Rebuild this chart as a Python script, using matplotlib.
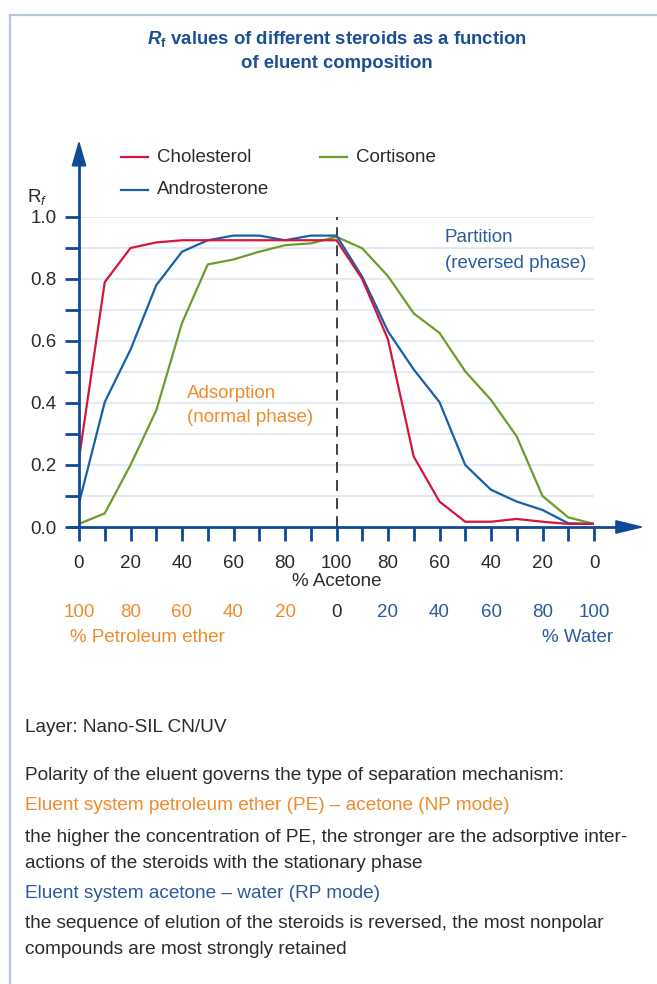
import matplotlib
matplotlib.use("Agg")
import matplotlib.pyplot as plt
from matplotlib.lines import Line2D
from matplotlib.patches import Polygon
import numpy as np

plt.rcParams['font.family'] = ['Liberation Sans', 'DejaVu Sans']
plt.rcParams['mathtext.fontset'] = 'custom'
plt.rcParams['mathtext.rm'] = 'Liberation Sans'
plt.rcParams['mathtext.it'] = 'Liberation Sans:italic'
plt.rcParams['mathtext.bf'] = 'Liberation Sans:bold'
plt.rcParams['mathtext.bfit'] = 'Liberation Sans:italic:bold'

# position along the run: 0..100 = PE/acetone (NP), 100..200 = acetone/water (RP)
pos = np.arange(0, 201, 10)

cholesterol = [0.22, 0.79, 0.90, 0.918, 0.925, 0.925, 0.925, 0.925, 0.925, 0.925, 0.925,
               0.80, 0.605, 0.227, 0.082, 0.017, 0.017, 0.026, 0.017, 0.01, 0.01]
androsterone = [0.077, 0.403, 0.572, 0.78, 0.888, 0.925, 0.94, 0.94, 0.925, 0.94, 0.94,
                0.807, 0.631, 0.508, 0.403, 0.20, 0.12, 0.082, 0.055, 0.012, 0.01]
cortisone = [0.01, 0.044, 0.20, 0.376, 0.658, 0.847, 0.863, 0.888, 0.909, 0.915, 0.936,
             0.899, 0.809, 0.689, 0.626, 0.502, 0.41, 0.292, 0.10, 0.031, 0.01]

acetone_labels = ['0', '20', '40', '60', '80', '100', '80', '60', '40', '20', '0']
pe_labels = ['100', '80', '60', '40', '20']
water_labels = ['20', '40', '60', '80', '100']

RED = '#d4163c'
BLUE = '#1560a8'
GREEN = '#6f9b2b'
AXBLUE = '#0d4b96'
ORANGE = '#f08a2c'
TXTBLUE = '#2a5b9e'
TITLE = '#1b4f93'
GRID = '#e4eaf4'
DARK = '#2b2b2b'

FS = 13.5      # chart text
NFS = 13.7     # notes under the chart

W, H = 657, 984
fig = plt.figure(figsize=(W / 100, H / 100), dpi=100)


def px(x, y):
    return x / W, 1 - y / H


# page frame (left and top rule)
fig.add_artist(Line2D([10 / W, 1], [1 - 15 / H] * 2, color='#b4c6e4', lw=1.6))
fig.add_artist(Line2D([10 / W] * 2, [0, 1 - 15 / H], color='#b4c6e4', lw=1.6))

ax = fig.add_axes([79 / W, 1 - 527 / H, 515 / W, 310 / H])
ax.set_xlim(0, 200)
ax.set_ylim(0, 1)
for s in ax.spines.values():
    s.set_visible(False)
ax.patch.set_alpha(0)

for v in np.arange(0.1, 1.01, 0.1):
    ax.axhline(v, color=GRID, lw=1.4, zorder=0)

ax.plot([100, 100], [0, 1.0], color='#333333', lw=1.3, ls=(0, (6, 4)), zorder=1)

ax.plot(pos, cortisone, color=GREEN, lw=1.6, zorder=3)
ax.plot(pos, androsterone, color=BLUE, lw=1.6, zorder=3)
ax.plot(pos, cholesterol, color=RED, lw=1.6, zorder=3)

# axes with arrowheads
ax.plot([0, 0], [0, 1.17], color=AXBLUE, lw=2, clip_on=False, zorder=4,
        solid_capstyle='butt')
ax.plot([-3.9, 209], [0, 0], color=AXBLUE, lw=2, clip_on=False, zorder=4,
        solid_capstyle='butt')
ax.add_patch(Polygon([[-2.6, 1.165], [2.6, 1.165], [0, 1.24]], closed=True,
                     color=AXBLUE, clip_on=False, zorder=4))
ax.add_patch(Polygon([[208.5, -0.02], [208.5, 0.02], [218.5, 0]], closed=True,
                     color=AXBLUE, clip_on=False, zorder=4))

ax.set_xticks(np.arange(0, 201, 20), acetone_labels)
ax.set_xticks(np.arange(0, 201, 10), minor=True)
ax.set_yticks(np.arange(0, 1.01, 0.2), ['0.0', '0.2', '0.4', '0.6', '0.8', '1.0'])
ax.set_yticks(np.arange(0, 1.01, 0.1), minor=True)
ax.tick_params(which='both', direction='out', length=10, width=2, color=AXBLUE)
ax.tick_params(axis='x', which='major', pad=10, labelsize=FS, labelcolor=DARK)
ax.tick_params(axis='y', which='major', pad=6, labelsize=FS, labelcolor=DARK)

xt = ax.get_xaxis_transform()
for x, lab in zip(np.arange(0, 81, 20), pe_labels):
    ax.text(x, -0.277, lab, transform=xt, ha='center', va='center',
            color=ORANGE, fontsize=FS)
ax.text(100, -0.277, '0', transform=xt, ha='center', va='center', color=DARK, fontsize=FS)
for x, lab in zip(np.arange(120, 201, 20), water_labels):
    ax.text(x, -0.277, lab, transform=xt, ha='center', va='center',
            color=TXTBLUE, fontsize=FS)

fig.text(*px(337, 581), '% Acetone', ha='center', va='center', color=DARK, fontsize=FS)
fig.text(*px(70, 637), '% Petroleum ether', ha='left', va='center', color=ORANGE, fontsize=FS)
fig.text(*px(613, 637), '% Water', ha='right', va='center', color=TXTBLUE, fontsize=FS)

fig.text(*px(37, 197), r'R$_{\mathit{f}}$', ha='center', va='center', color=DARK, fontsize=FS)

# region notes
fig.text(*px(187, 393), 'Adsorption', ha='left', va='center', color=ORANGE, fontsize=FS)
fig.text(*px(187, 418), '(normal phase)', ha='left', va='center', color=ORANGE, fontsize=FS)
fig.text(*px(445, 237), 'Partition', ha='left', va='center', color=TXTBLUE, fontsize=FS)
fig.text(*px(445, 264), '(reversed phase)', ha='left', va='center', color=TXTBLUE, fontsize=FS)

# legend
for (x0, y0, c, name) in [(121, 157, RED, 'Cholesterol'),
                          (121, 190, BLUE, 'Androsterone'),
                          (320, 157, GREEN, 'Cortisone')]:
    fig.add_artist(Line2D([x0 / W, (x0 + 27) / W], [1 - y0 / H] * 2, color=c, lw=1.6))
    fig.text(*px(x0 + 36, y0), name, ha='left', va='center', color=DARK, fontsize=FS)

# title
fig.text(*px(337, 39), r'$\mathbfit{R}_{\mathbf{f}}$ values of different steroids as a function',
         ha='center', va='center', color=TITLE, fontsize=13.3, fontweight='bold')
fig.text(*px(337, 63), 'of eluent composition', ha='center', va='center',
         color=TITLE, fontsize=13.3, fontweight='bold')

# notes below the chart
notes = [
    (727, 'Layer: Nano-SIL CN/UV', DARK),
    (776, 'Polarity of the eluent governs the type of separation mechanism:', DARK),
    (805, 'Eluent system petroleum ether (PE) \u2013 acetone (NP mode)', ORANGE),
    (838, 'the higher the concentration of PE, the stronger are the adsorptive inter-', DARK),
    (864, 'actions of the steroids with the stationary phase', DARK),
    (893, 'Eluent system acetone \u2013 water (RP mode)', TXTBLUE),
    (923, 'the sequence of elution of the steroids is reversed, the most nonpolar', DARK),
    (949, 'compounds are most strongly retained', DARK),
]
for y, s, c in notes:
    fig.text(*px(25, y), s, ha='left', va='center', color=c, fontsize=NFS)

fig.savefig('out.png', dpi=100)
